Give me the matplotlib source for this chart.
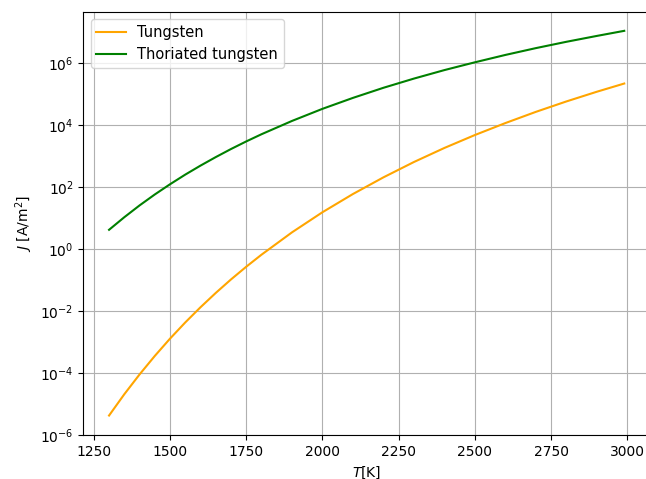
import matplotlib
matplotlib.use("Agg")
import matplotlib.pyplot as plt

# 読み取った値 (温度 [K], 電流密度 [A/m^2])
temps = [1300, 1350, 1400, 1450, 1500, 1550, 1600, 1650, 1700, 1750, 1800,
         1900, 2000, 2100, 2200, 2300, 2400, 2500, 2600, 2700, 2800, 2900, 2990]
j_tungsten = [4.25e-6, 2.07e-5, 9.0e-5, 3.56e-4, 1.29e-3, 4.30e-3, 1.33e-2,
              3.85e-2, 0.105, 0.270, 0.66, 3.47, 15.5, 60, 207, 647, 1.84e3,
              4.81e3, 1.17e4, 2.69e4, 5.83e4, 1.20e5, 2.21e5]
j_thoriated = [4.2, 10.7, 25.7, 58, 124, 254, 496, 933, 1.70e3, 2.99e3, 5.1e3,
               1.37e4, 3.37e4, 7.6e4, 1.61e5, 3.19e5, 6.0e5, 1.07e6, 1.85e6,
               3.07e6, 4.91e6, 7.6e6, 1.11e7]

fig = plt.figure(figsize=(6.46, 4.79), dpi=100)
ax = fig.add_axes([83.3 / 646, 44 / 479, (650 - 83.3) / 646, 423 / 479])

ax.plot(temps, j_tungsten, color="orange", label="Tungsten")
ax.plot(temps, j_thoriated, color="green", label="Thoriated tungsten")

ax.set_yscale("log")
ax.set_xlim(1215.5, 3074.5)
ax.set_ylim(1e-6, 4.5e7)
ax.set_xlabel("$T$[K]")
ax.set_ylabel("$J$ [A/m$^2$]")
ax.legend(loc="upper left", fontsize=10.5)
ax.grid(True)

fig.savefig("out.png", dpi=100)
